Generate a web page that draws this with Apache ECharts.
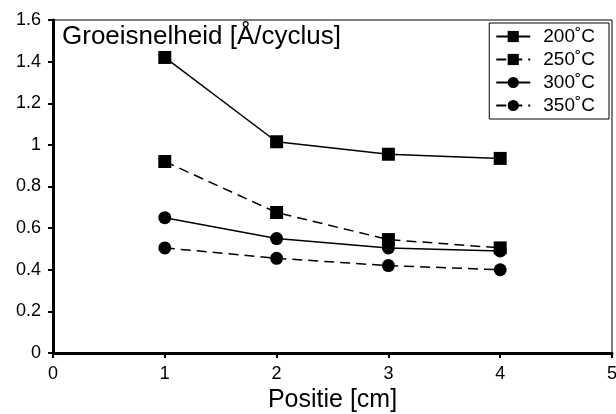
<!DOCTYPE html>
<html>
<head>
<meta charset="utf-8">
<script src="https://cdn.jsdelivr.net/npm/echarts@6/dist/echarts.min.js"></script>
<style>
  html, body { margin: 0; padding: 0; background: #fff; }
  #chart { width: 616px; height: 414px; }
</style>
</head>
<body>
<div id="chart"></div>
<script>
  // posities (cm)
  var positions = [1, 2, 3, 4];
  var seriesNames = ['200˚C', '250˚C', '300˚C', '350˚C'];
  // groeisnelheid per temperatuur
  var rate200 = [1.42, 1.015, 0.955, 0.935];
  var rate250 = [0.92, 0.675, 0.545, 0.505];
  var rate300 = [0.65, 0.55, 0.505, 0.49];
  var rate350 = [0.505, 0.455, 0.42, 0.40];

  var font = '"Liberation Sans", Arial, Helvetica, sans-serif';

  function pairs(vals) {
    return positions.map(function (p, i) { return [p, vals[i]]; });
  }

  function makeSeries(name, vals, symbol, dashed) {
    return {
      name: name,
      type: 'line',
      data: pairs(vals),
      symbol: symbol,
      symbolSize: 13,
      showSymbol: true,
      animation: false,
      itemStyle: { color: '#000' },
      lineStyle: { color: '#000', width: 1.5, type: dashed ? [10, 6] : 'solid' }
    };
  }

  var chart = echarts.init(document.getElementById('chart'));
  chart.setOption({
    animation: false,
    textStyle: { fontFamily: font, color: '#000' },
    grid: {
      left: 53, right: 4, top: 20, bottom: 61,
      outerBoundsMode: 'none', containLabel: false,
      show: true, borderColor: '#000', borderWidth: 1
    },
    title: {
      text: 'Groeisnelheid [Å/cyclus]',
      left: 62,
      top: 24,
      padding: 0,
      textStyle: { fontFamily: font, fontSize: 26, fontWeight: 'normal', color: '#000' }
    },
    legend: {
      orient: 'vertical',
      right: 7,
      top: 23,
      itemWidth: 34,
      itemHeight: 14,
      itemGap: 4,
      padding: [4, 14, 4, 6],
      borderColor: '#000',
      borderWidth: 1,
      backgroundColor: '#fff',
      textStyle: { fontFamily: font, fontSize: 19, color: '#000', padding: [0, 0, 0, 8] },
      data: seriesNames
    },
    xAxis: {
      type: 'value',
      min: 0,
      max: 5,
      interval: 1,
      name: 'Positie [cm]',
      nameLocation: 'middle',
      nameGap: 33,
      nameTextStyle: { fontFamily: font, fontSize: 25, color: '#000' },
      splitLine: { show: false },
      axisLine: { onZero: false, lineStyle: { color: '#000', width: 3 } },
      axisTick: { length: 5, lineStyle: { color: '#000', width: 2 } },
      axisLabel: { fontFamily: font, fontSize: 18, color: '#000', margin: 12 }
    },
    yAxis: {
      type: 'value',
      min: 0,
      max: 1.6,
      interval: 0.2,
      splitLine: { show: false },
      axisLine: { show: true, lineStyle: { color: '#000', width: 3 } },
      axisTick: { show: true, length: 5, lineStyle: { color: '#000', width: 2 } },
      axisLabel: {
        fontFamily: font, fontSize: 18, color: '#000', margin: 12,
        formatter: function (v) { return String(Math.round(v * 10) / 10); }
      }
    },
    series: [
      makeSeries(seriesNames[0], rate200, 'rect', false),
      makeSeries(seriesNames[1], rate250, 'rect', true),
      makeSeries(seriesNames[2], rate300, 'circle', false),
      makeSeries(seriesNames[3], rate350, 'circle', true)
    ]
  });
</script>
</body>
</html>
